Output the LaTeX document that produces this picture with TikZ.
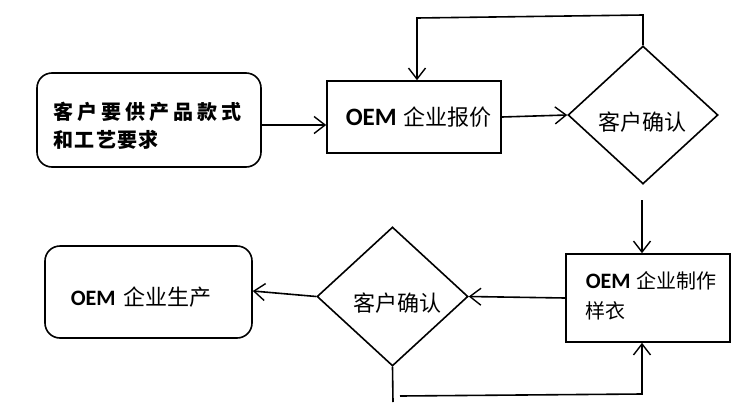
\documentclass[tikz,border=0pt]{standalone}
\usepackage{fontspec}
\usetikzlibrary{shapes.geometric,arrows.meta}
\newfontfamily\cjk{Noto Sans CJK SC}
\newfontfamily\cjkwide[LetterSpace=20]{Noto Sans CJK SC}
\newfontfamily\cjkmid[LetterSpace=6]{Noto Sans CJK SC}
\newfontfamily\lat{Carlito}
\newcommand{\oem}[2]{{\lat\bfseries\fontsize{#1}{30}\selectfont OEM}\hspace{#2}}
\begin{document}
\begin{tikzpicture}[x=1pt,y=-1pt,line width=1.6pt,
  >={Straight Barb[length=11pt,width=17pt,line width=1.4pt]},
  boxr/.style={draw,rectangle,rounded corners=15pt,inner sep=0pt},
  boxs/.style={draw,rectangle,inner sep=0pt},
  dia/.style={draw,diamond,inner sep=0pt,minimum width=150pt,minimum height=138pt},
  txt/.style={inner sep=0pt,font=\fontsize{22}{30}\selectfont},
  conn/.style={->}]
\useasboundingbox (0,0) rectangle (750,402);
% shapes
\node[boxr,minimum width=224pt,minimum height=94pt] (b1) at (149,120) {};
\node[boxs,minimum width=174pt,minimum height=72pt] (b2) at (414,117) {};
\node[dia] (d1) at (643,115) {};
\node[boxs,minimum width=164pt,minimum height=88pt] (b3) at (648,298) {};
\node[dia,minimum width=151pt,minimum height=139pt] (d2) at (392.5,296.5) {};
\node[boxr,minimum width=207pt,minimum height=92pt] (b4) at (148.5,292) {};
% texts
\node[txt,anchor=west,font=\fontsize{20}{24}\selectfont\bfseries] (t1a) at (53,112) {\cjkwide 客户要供产品款式};
\node[txt,anchor=west,font=\fontsize{20}{24}\selectfont\bfseries] (t1b) at (53,140) {\cjkmid 和工艺要求};
\node[txt,anchor=west] (t2) at (345,117) {\oem{25}{7pt}{\cjk 企业报价}};
\node[txt] (t3) at (642,122) {\cjk 客户确认};
\node[txt,anchor=west,align=left,font=\fontsize{20}{30}\selectfont] (t4) at (585,296) {\oem{22}{6pt}{\cjk 企业制作}\\{\cjk 样衣}};
\node[txt] (t5) at (397,303) {\cjk 客户确认};
\node[txt,anchor=west] (t6) at (70,297) {\oem{22}{8pt}{\cjk 企业生产}};
% helper coordinates
\coordinate (l1a) at (643,15);
\coordinate (l1b) at (417,18);
\coordinate (c3) at (642,200);
\coordinate (l2a) at (393,402);
\coordinate (l2b) at (400,396);
\coordinate (l2c) at (642,394);
% connectors
\draw[conn] ([yshift=-5pt]b1.east) -- ([yshift=-8pt]b2.west);
\draw[conn] (b2.east) -- (d1.west);
\draw[conn] (d1.north) -- (l1a) -- (l1b) -- (l1b |- b2.north);
\draw[conn] (c3) -- (c3 |- b3.north);
\draw[conn] (b3.west) -- (d2.east);
\draw[conn] (d2.west) -- ([yshift=1pt]b4.east);
\draw (d2.south) -- (l2a);
\draw[conn] (l2b) -- (l2c) -- (l2c |- b3.south);
\end{tikzpicture}
\end{document}
